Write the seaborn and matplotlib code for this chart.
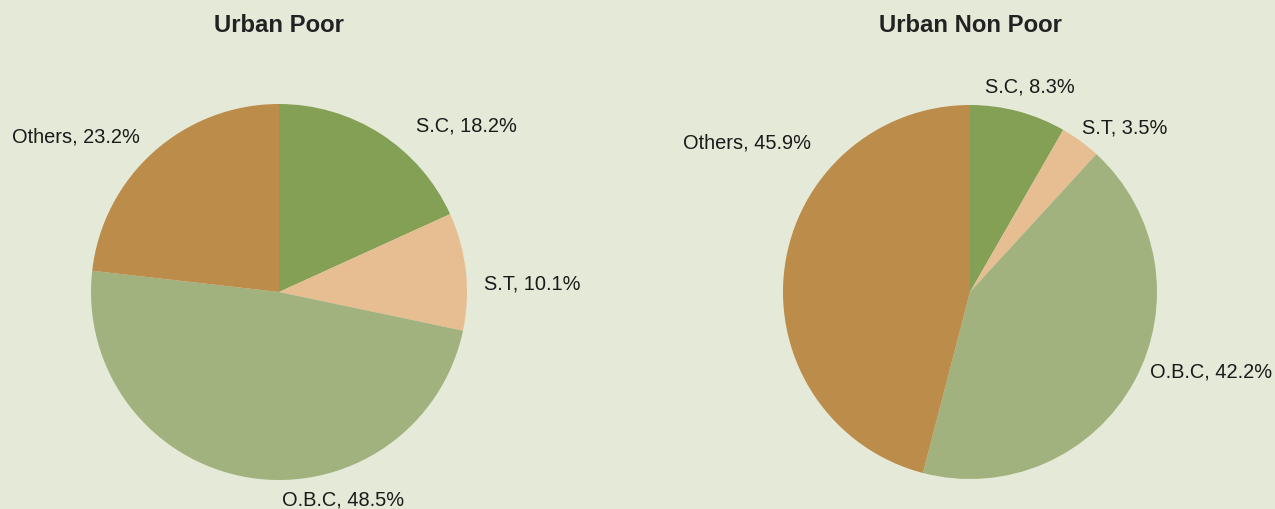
import matplotlib
matplotlib.use("Agg")
import matplotlib.pyplot as plt
import seaborn as sns

# data
groups = ["S.C", "S.T", "O.B.C", "Others"]
urban_poor = [18.2, 10.1, 48.5, 23.2]
urban_non_poor = [8.3, 3.5, 42.2, 45.9]
titles = ["Urban Poor", "Urban Non Poor"]

# label placement (in units of the pie radius) and alignment
poor_label_pos = [(0.73, 0.89), (1.09, 0.05), (0.34, -1.10), (-0.74, 0.83)]
poor_label_ha = ["left", "left", "center", "right"]
nonpoor_label_pos = [(0.08, 1.10), (0.60, 0.88), (0.96, -0.42), (-0.85, 0.80)]
nonpoor_label_ha = ["left", "left", "left", "right"]

BG = "#e5e9d8"
palette = sns.color_palette(["#84a055", "#e7bd92", "#a2b27e", "#bb8c4a"])

sns.set_style("white")
plt.rcParams["font.family"] = ["Liberation Sans", "DejaVu Sans"]

W, H = 1275, 510
fig = plt.figure(figsize=(W / 100, H / 100), dpi=100)
fig.patch.set_facecolor(BG)

def draw_pie(cx, cy, r, values, label_pos, label_ha, title):
    k = 1.35
    ax = fig.add_axes([(cx - k * r) / W, (H - cy - k * r) / H, 2 * k * r / W, 2 * k * r / H])
    ax.set_facecolor(BG)
    ax.pie(values, colors=palette, startangle=90, counterclock=False,
           radius=1, wedgeprops=dict(linewidth=0))
    ax.set_xlim(-k, k)
    ax.set_ylim(-k, k)
    ax.set_aspect("equal")
    ax.axis("off")
    for name, val, (x, y), ha in zip(groups, values, label_pos, label_ha):
        ax.text(x, y, f"{name}, {val}%", ha=ha, va="center", fontsize=14.4,
                color="#1a1a1a", clip_on=False)
    fig.text(cx / W, 1 - 25 / H, title, ha="center", va="center",
             fontsize=17.2, fontweight="bold", color="#222222")

draw_pie(279, 293, 188, urban_poor, poor_label_pos, poor_label_ha, titles[0])
draw_pie(970, 293, 187, urban_non_poor, nonpoor_label_pos, nonpoor_label_ha, titles[1])

fig.savefig("out.png", dpi=100, facecolor=BG)
